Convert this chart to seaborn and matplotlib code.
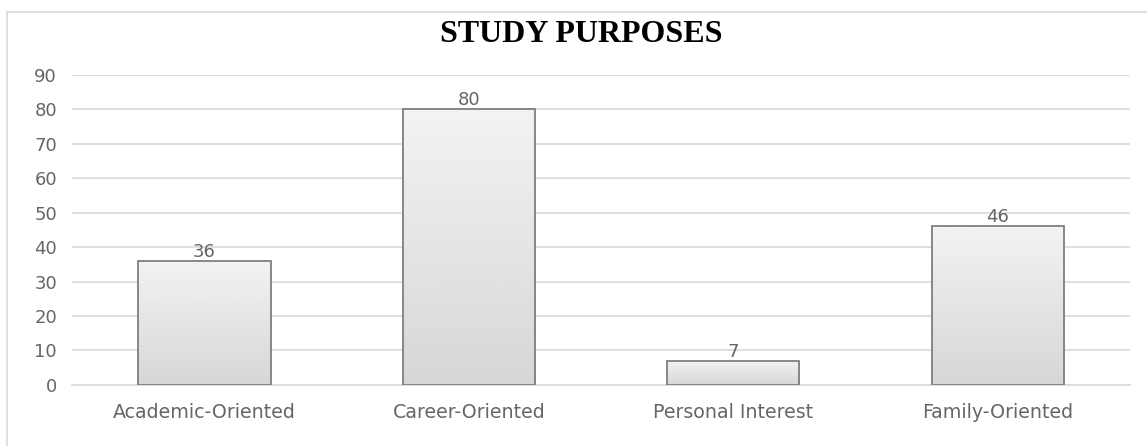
import numpy as np
import pandas as pd
import matplotlib.pyplot as plt
import matplotlib.patches as mpatches
import seaborn as sns

categories = ["Academic-Oriented", "Career-Oriented", "Personal Interest", "Family-Oriented"]
counts = [36, 80, 7, 46]

df = pd.DataFrame({"purpose": categories, "count": counts})

sns.set_theme(style="white")
plt.rcParams["font.family"] = ["DejaVu Sans"]

fig = plt.figure(figsize=(11.47, 4.46), dpi=100)
ax = fig.add_axes([0.063, 0.137, 0.922, 0.695])

sns.barplot(data=df, x="purpose", y="count", color="#e6e6e6", width=0.5,
            edgecolor="#7f7f7f", linewidth=1.3, ax=ax, zorder=3)

# vertical gradient fill inside each bar
grad = np.linspace(0.95, 0.84, 256).reshape(-1, 1)
for p in ax.patches:
    x0, y0 = p.get_x(), p.get_y()
    w, h = p.get_width(), p.get_height()
    im = ax.imshow(grad, cmap="gray", vmin=0, vmax=1, aspect="auto",
                   extent=[x0, x0 + w, y0, y0 + h], origin="upper", zorder=3.5)
    im.set_clip_path(p)
    p.set_facecolor("none")
    p.set_zorder(4)

for i, v in enumerate(counts):
    ax.annotate(str(v), (i, v), xytext=(0, 0), textcoords="offset points",
                ha="center", va="bottom", fontsize=13, color="#666666")

ax.set_xlim(-0.5, 3.5)
ax.set_ylim(0, 90)
ax.set_yticks(range(0, 91, 10))
ax.yaxis.grid(True, color="#d9d9d9", linewidth=1.2, zorder=0)
ax.set_axisbelow(True)
for s in ax.spines.values():
    s.set_visible(False)
ax.spines["bottom"].set_visible(True)
ax.spines["bottom"].set_color("#d9d9d9")
ax.spines["bottom"].set_linewidth(1.2)
ax.tick_params(axis="both", length=0, labelsize=13, labelcolor="#666666")
ax.tick_params(axis="x", pad=13, labelsize=13.7)
ax.tick_params(axis="y", pad=11)
ax.set_xlabel("")
ax.set_ylabel("")

fig.text(0.507, 0.923, "STUDY PURPOSES", ha="center", va="center",
         fontsize=23, fontweight="bold", family="Liberation Serif", color="black")

# outer chart frame
fig.patches.append(mpatches.Rectangle((7 / 1147, -0.1), 1.2, 1 - 12 / 446 + 0.1,
                                      transform=fig.transFigure, fill=False,
                                      edgecolor="#d9d9d9", linewidth=1.2))

plt.savefig("out.png", dpi=100)
